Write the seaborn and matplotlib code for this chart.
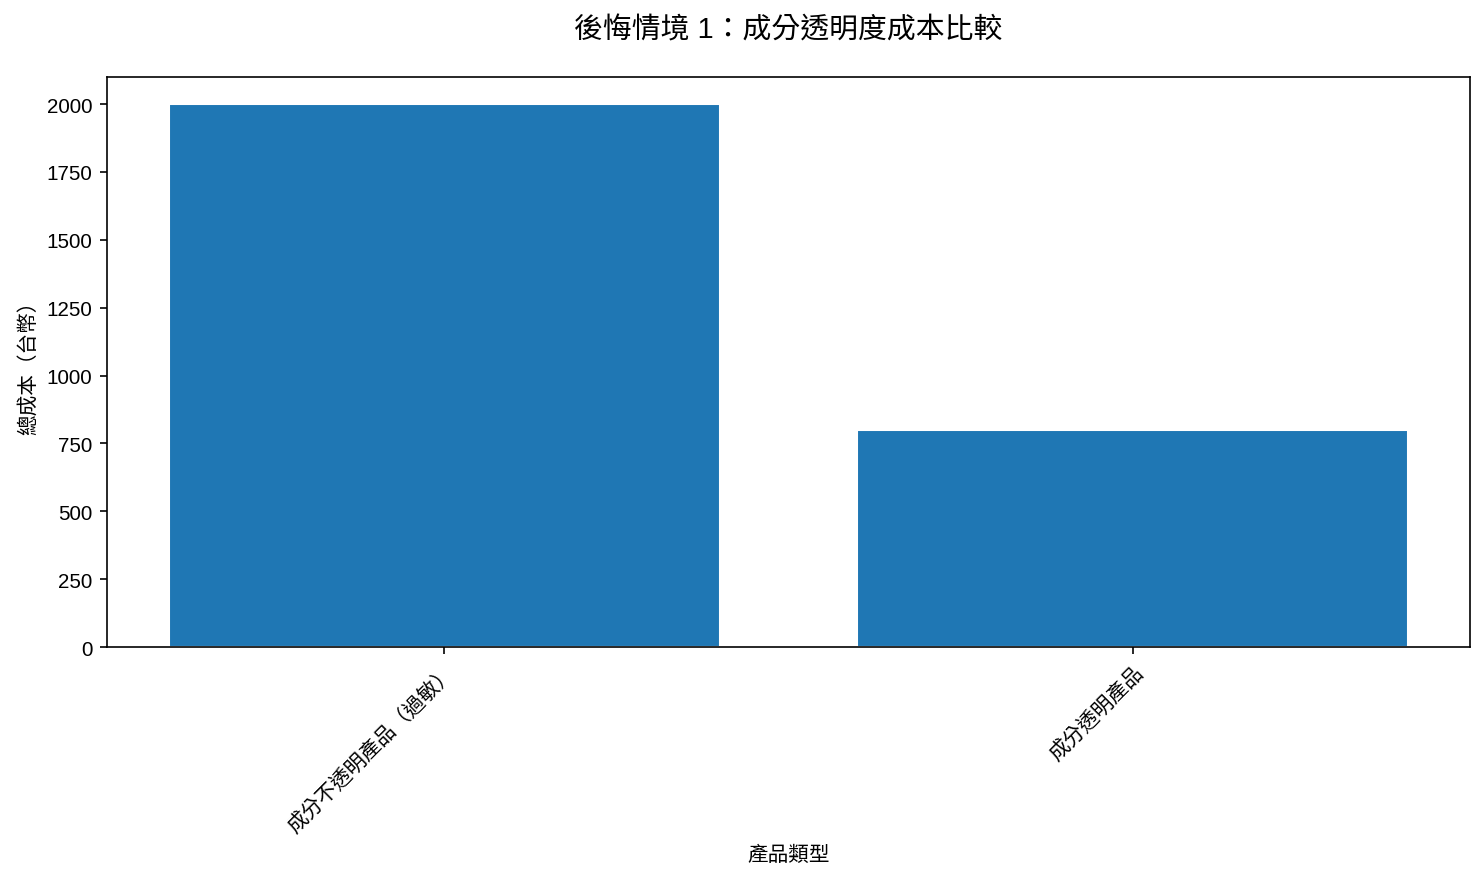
import matplotlib
matplotlib.use('Agg')
import pandas as pd
import matplotlib.pyplot as plt
import seaborn as sns

# chart data
categories = ['成分不透明產品（過敏）', '成分透明產品']
total_costs = [2000, 800]
title = '後悔情境 1：成分透明度成本比較'
x_label = '產品類型'
y_label = '總成本（台幣）'

sns.set_style('ticks')
plt.rcParams['font.family'] = ['Liberation Sans', 'Noto Sans CJK TC', 'DejaVu Sans']
plt.rcParams['text.color'] = 'black'
plt.rcParams['axes.labelcolor'] = 'black'
plt.rcParams['xtick.color'] = 'black'
plt.rcParams['ytick.color'] = 'black'
plt.rcParams['axes.edgecolor'] = 'black'

df = pd.DataFrame({'category': categories, 'cost': total_costs})

fig, ax = plt.subplots(figsize=(10, 5.95), dpi=148.4)
sns.barplot(data=df, x='category', y='cost', color='#1f77b4', saturation=1,
            width=0.8, ax=ax)
ax.set_xlim(-0.49, 1.49)
ax.set_ylim(0, 2100)
ax.set_title(title, fontsize=14, pad=19)
ax.set_xlabel(x_label, fontsize=10)
ax.set_ylabel(y_label, fontsize=10)
plt.setp(ax.get_xticklabels(), rotation=45, ha='right', rotation_mode='anchor')
for s in ax.spines.values():
    s.set_visible(True)
ax.tick_params(labelsize=10)

plt.subplots_adjust(left=0.072, right=0.9906, top=0.9117, bottom=0.2661)
plt.savefig('out.png')
